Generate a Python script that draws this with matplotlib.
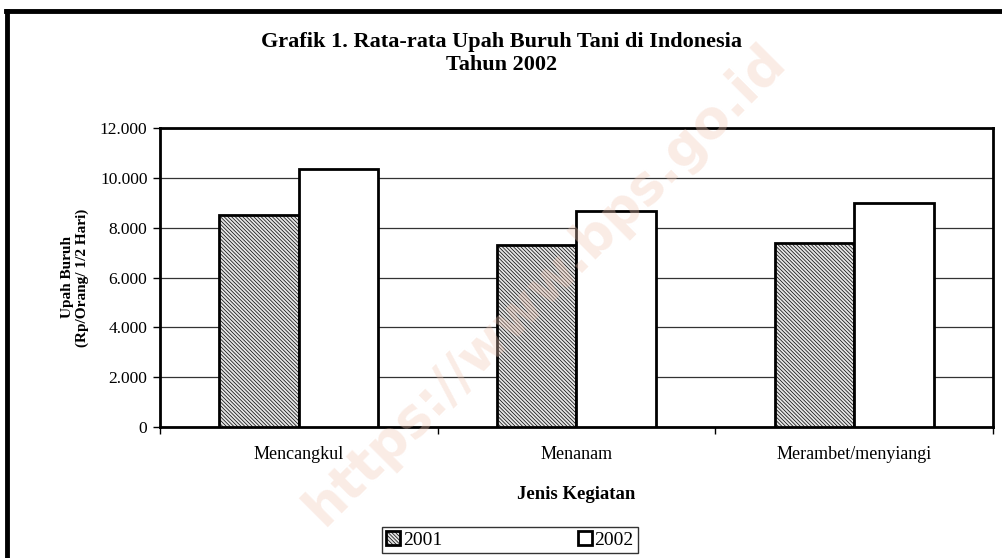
import numpy as np
import matplotlib
matplotlib.use("Agg")
import matplotlib.pyplot as plt
from matplotlib.ticker import FuncFormatter

plt.rcParams['font.family'] = ['Liberation Serif', 'DejaVu Serif']
plt.rcParams['hatch.linewidth'] = 0.5

# data
kegiatan = ["Mencangkul", "Menanam", "Merambet/menyiangi"]
upah_2001 = [8520, 7290, 7400]
upah_2002 = [10360, 8660, 8970]
tahun = ["2001", "2002"]
yticks = [0, 2000, 4000, 6000, 8000, 10000, 12000]

fig = plt.figure(figsize=(10.03, 5.58), dpi=100)
ax = fig.add_axes([160 / 1003, 1 - 427 / 558, 833 / 1003, 299 / 558])

x = np.arange(len(kegiatan))
w = 0.286
ax.bar(x - w / 2, upah_2001, w, facecolor="#e4e4e4", edgecolor="black",
       hatch="\\" * 9, linewidth=2, label=tahun[0], zorder=3)
ax.bar(x + w / 2, upah_2002, w, facecolor="white", edgecolor="black",
       linewidth=2, label=tahun[1], zorder=3)

ax.set_xlim(-0.5, len(kegiatan) - 0.5)
ax.set_ylim(0, 12000)
ax.set_yticks(yticks)
ax.yaxis.set_major_formatter(FuncFormatter(lambda v, p: f"{int(v):,}".replace(",", ".")))
ax.yaxis.grid(True, color="#333333", linewidth=0.9, zorder=0)
ax.set_axisbelow(True)

ax.set_xticks(x)
ax.set_xticklabels(kegiatan, fontsize=13)
ax.set_xticks(np.arange(len(kegiatan) + 1) - 0.5, minor=True)
ax.tick_params(axis="x", which="major", length=0, pad=14)
ax.tick_params(axis="x", which="minor", length=5, width=1, direction="out")
ax.tick_params(axis="y", length=5, width=1, direction="out", labelsize=12.5, pad=4)
for s in ax.spines.values():
    s.set_linewidth(2)

ax.set_xlabel("Jenis Kegiatan", fontsize=13.5, fontweight="bold", labelpad=16)
ax.set_ylabel("Upah Buruh\n(Rp/Orang/ 1/2 Hari)", fontsize=11, fontweight="bold",
              labelpad=8, linespacing=1.1)

fig.text(0.5, 1 - 42 / 558, "Grafik 1. Rata-rata Upah Buruh Tani di Indonesia",
         ha="center", va="center", fontsize=16, fontweight="bold")
fig.text(0.5, 1 - 65 / 558, "Tahun 2002", ha="center", va="center",
         fontsize=16, fontweight="bold")

leg = fig.legend(loc="center", bbox_to_anchor=(510 / 1003, 1 - 540 / 558), ncol=2,
                 fontsize=14, frameon=True, fancybox=False, edgecolor="black",
                 handlelength=0.7, handleheight=0.7, handletextpad=0.15,
                 columnspacing=7, borderpad=0.2, borderaxespad=0)
leg.get_frame().set_linewidth(1)

# watermark
fig.text(545 / 1003, 1 - 285 / 558, "https://www.bps.go.id", ha="center", va="center",
         rotation=45, fontsize=38, fontweight="bold", family="DejaVu Sans",
         color="#f2c8b6", alpha=0.35, zorder=10)

# outer frame (top and left)
fig.add_artist(plt.Line2D([6 / 1003, 1], [1 - 11 / 558, 1 - 11 / 558],
                          transform=fig.transFigure, color="black", linewidth=3.5))
fig.add_artist(plt.Line2D([7.5 / 1003, 7.5 / 1003], [0, 1 - 11 / 558],
                          transform=fig.transFigure, color="black", linewidth=3.5))

fig.savefig("out.png", dpi=100)
